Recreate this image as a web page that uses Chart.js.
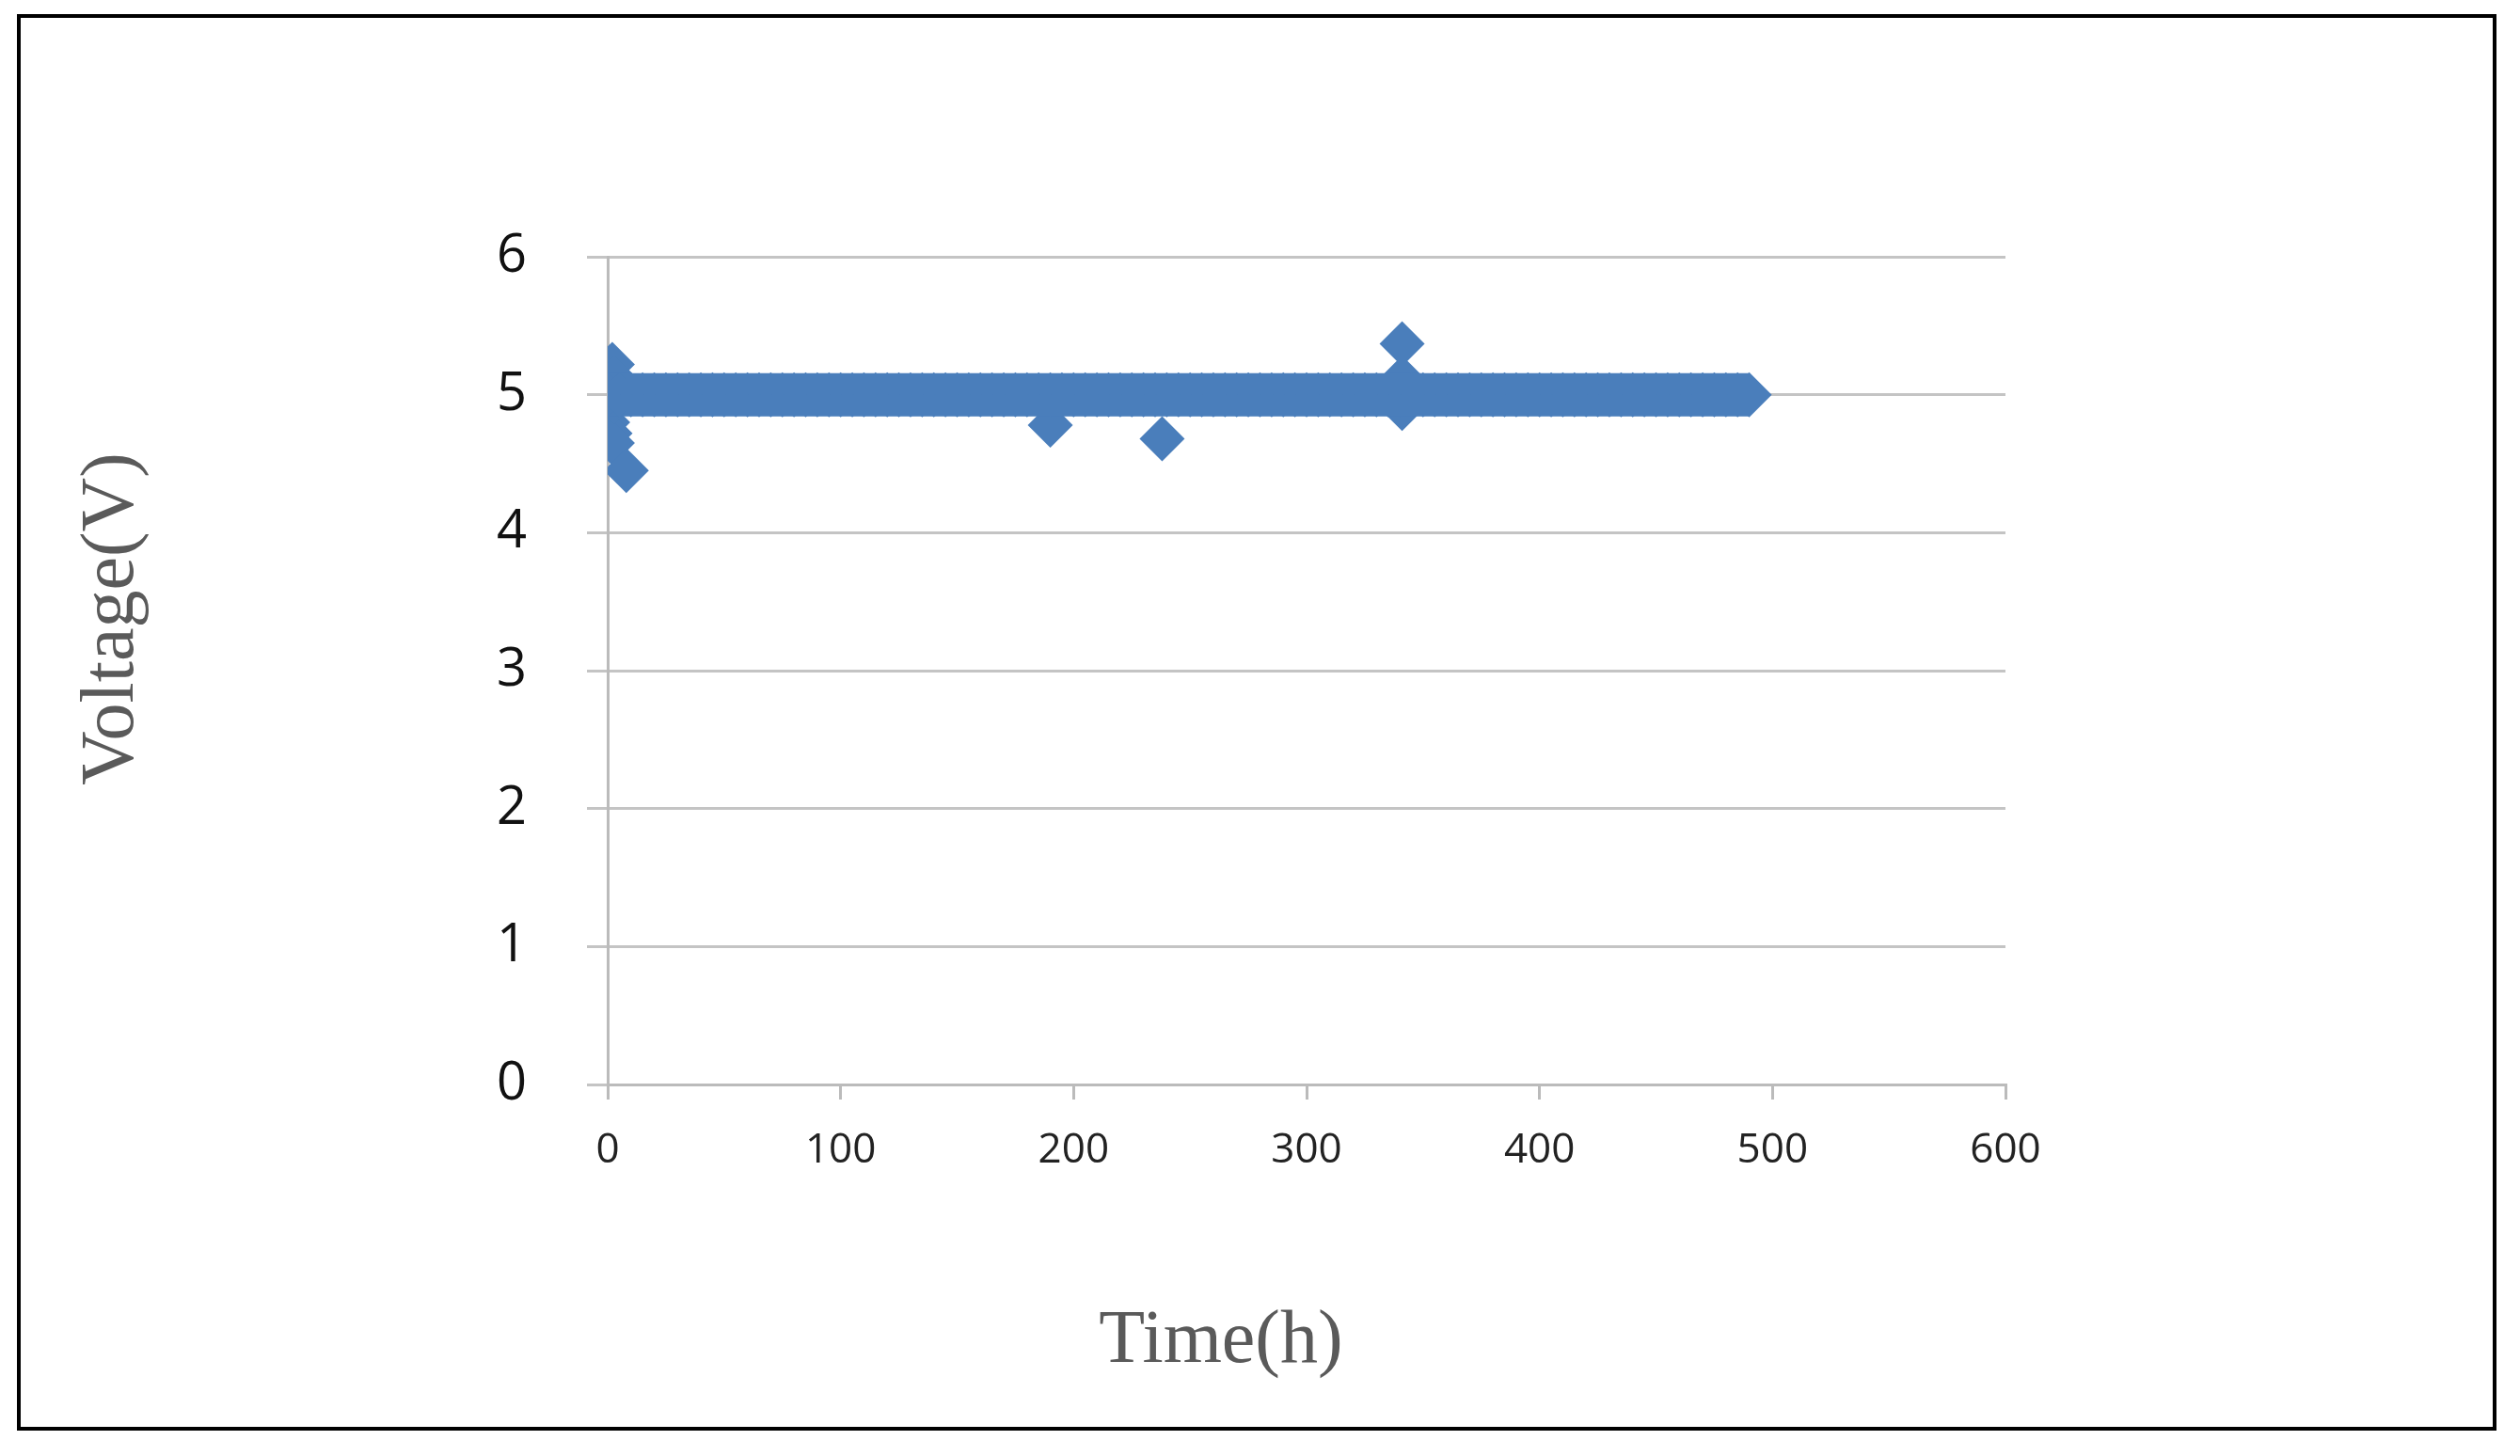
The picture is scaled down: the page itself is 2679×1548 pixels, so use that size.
<!DOCTYPE html>
<html>
<head>
<meta charset="utf-8">
<script src="https://cdn.jsdelivr.net/npm/chart.js@4/dist/chart.umd.min.js"></script>
<style>
  html, body { margin: 0; padding: 0; background: #fff; }
  #wrap { position: absolute; left: 0; top: 0; width: 2679px; height: 1548px; }
  #frame { position: absolute; left: 18px; top: 15px; width: 2636px; height: 1506px; border: 4px solid #000; box-sizing: border-box; pointer-events: none; }
</style>
</head>
<body>
<div id="wrap">
  <canvas id="Scatter" width="2679" height="1548"></canvas>
  <div id="frame"></div>
</div>
<script>
// main band, hourly log sampled every 5 h, all at ~5 V
var hours = [0,5,10,15,20,25,30,35,40,45,50,55,60,65,70,75,80,85,90,95,
  100,105,110,115,120,125,130,135,140,145,150,155,160,165,170,175,180,185,190,195,
  200,205,210,215,220,225,230,235,240,245,250,255,260,265,270,275,280,285,290,295,
  300,305,310,315,320,325,330,335,340,345,350,355,360,365,370,375,380,385,390,395,
  400,405,410,415,420,425,430,435,440,445,450,455,460,465,470,475,480,485,490]
var volts = [5,5,5,5,5,5,5,5,5,5,5,5,5,5,5,5,5,5,5,5,
  5,5,5,5,5,5,5,5,5,5,5,5,5,5,5,5,5,5,5,5,
  5,5,5,5,5,5,5,5,5,5,5,5,5,5,5,5,5,5,5,5,
  5,5,5,5,5,5,5,5,5,5,5,5,5,5,5,5,5,5,5,5,
  5,5,5,5,5,5,5,5,5,5,5,5,5,5,5,5,5,5,5]
// scattered readings away from 5 V
var outHours = [2, 3, 0, 0, 1, 2, 3, 8, 190, 238, 341, 341, 341]
var outVolts = [5.22, 5.12, 4.9, 4.8, 4.72, 4.65, 4.95, 4.45, 4.78, 4.68, 5.37, 5.12, 4.9]

var yTicks = [0, 1, 2, 3, 4, 5, 6]
var xTicks = [0, 100, 200, 300, 400, 500, 600]

var bandPts = hours.map((h, i) => ({x: h, y: volts[i]}))
var outPts = outHours.map((h, i) => ({x: h, y: outVolts[i]}))

var axisTitles = {
    id: 'axisTitles',
    afterDraw(chart) {
        let ctx = chart.ctx
        ctx.save()
        ctx.fillStyle = '#5a5a5a'
        ctx.font = '80px "Liberation Serif", serif'
        ctx.textAlign = 'center'
        ctx.textBaseline = 'middle'
        ctx.fillText('Time(h)', 1298, 1427)
        ctx.translate(120, 658)
        ctx.rotate(-Math.PI / 2)
        ctx.fillText('Voltage(V)', 0, 0)
        ctx.restore()
    }
}

new Chart(document.getElementById('Scatter'), {
    type: 'scatter',
    data: {
        datasets: [{
            type: 'line',
            data: bandPts,
            showLine: true,
            fill: false,
            borderColor: '#4A7EBB',
            borderWidth: 46,
            backgroundColor: '#4A7EBB',
            pointStyle: 'rectRot',
            pointRadius: 24,
            pointBorderWidth: 0
        }, {
            data: outPts,
            backgroundColor: '#4A7EBB',
            borderColor: '#4A7EBB',
            pointStyle: 'rectRot',
            pointRadius: 24,
            borderWidth: 0
        }]
    },
    options: {
        responsive: false,
        animation: false,
        layout: { padding: { left: 346, right: 547, top: 273, bottom: 195 } },
        plugins: { legend: { display: false }, tooltip: { enabled: false } },
        scales: {
            x: {
                type: 'linear', min: 0, max: 600,
                afterBuildTicks: s => { s.ticks = xTicks.map(v => ({value: v})) },
                afterFit: s => { s.height = 200 },
                grid: { display: true, drawOnChartArea: false, drawTicks: true, tickLength: 16, color: '#bbb', lineWidth: 3 },
                border: { color: '#bbb', width: 3 },
                ticks: { color: '#222', font: { size: 44, family: '"Open Sans", sans-serif' }, padding: 28, maxRotation: 0 }
            },
            y: {
                min: 0, max: 6,
                afterBuildTicks: s => { s.ticks = yTicks.map(v => ({value: v})) },
                afterFit: s => { s.width = 300 },
                grid: { color: '#c4c4c4', lineWidth: 3, tickLength: 22 },
                border: { color: '#bbb', width: 3 },
                ticks: { color: '#111', font: { size: 56, family: '"Open Sans", sans-serif' }, padding: 64 }
            }
        }
    },
    plugins: [axisTitles]
})
</script>
</body>
</html>
